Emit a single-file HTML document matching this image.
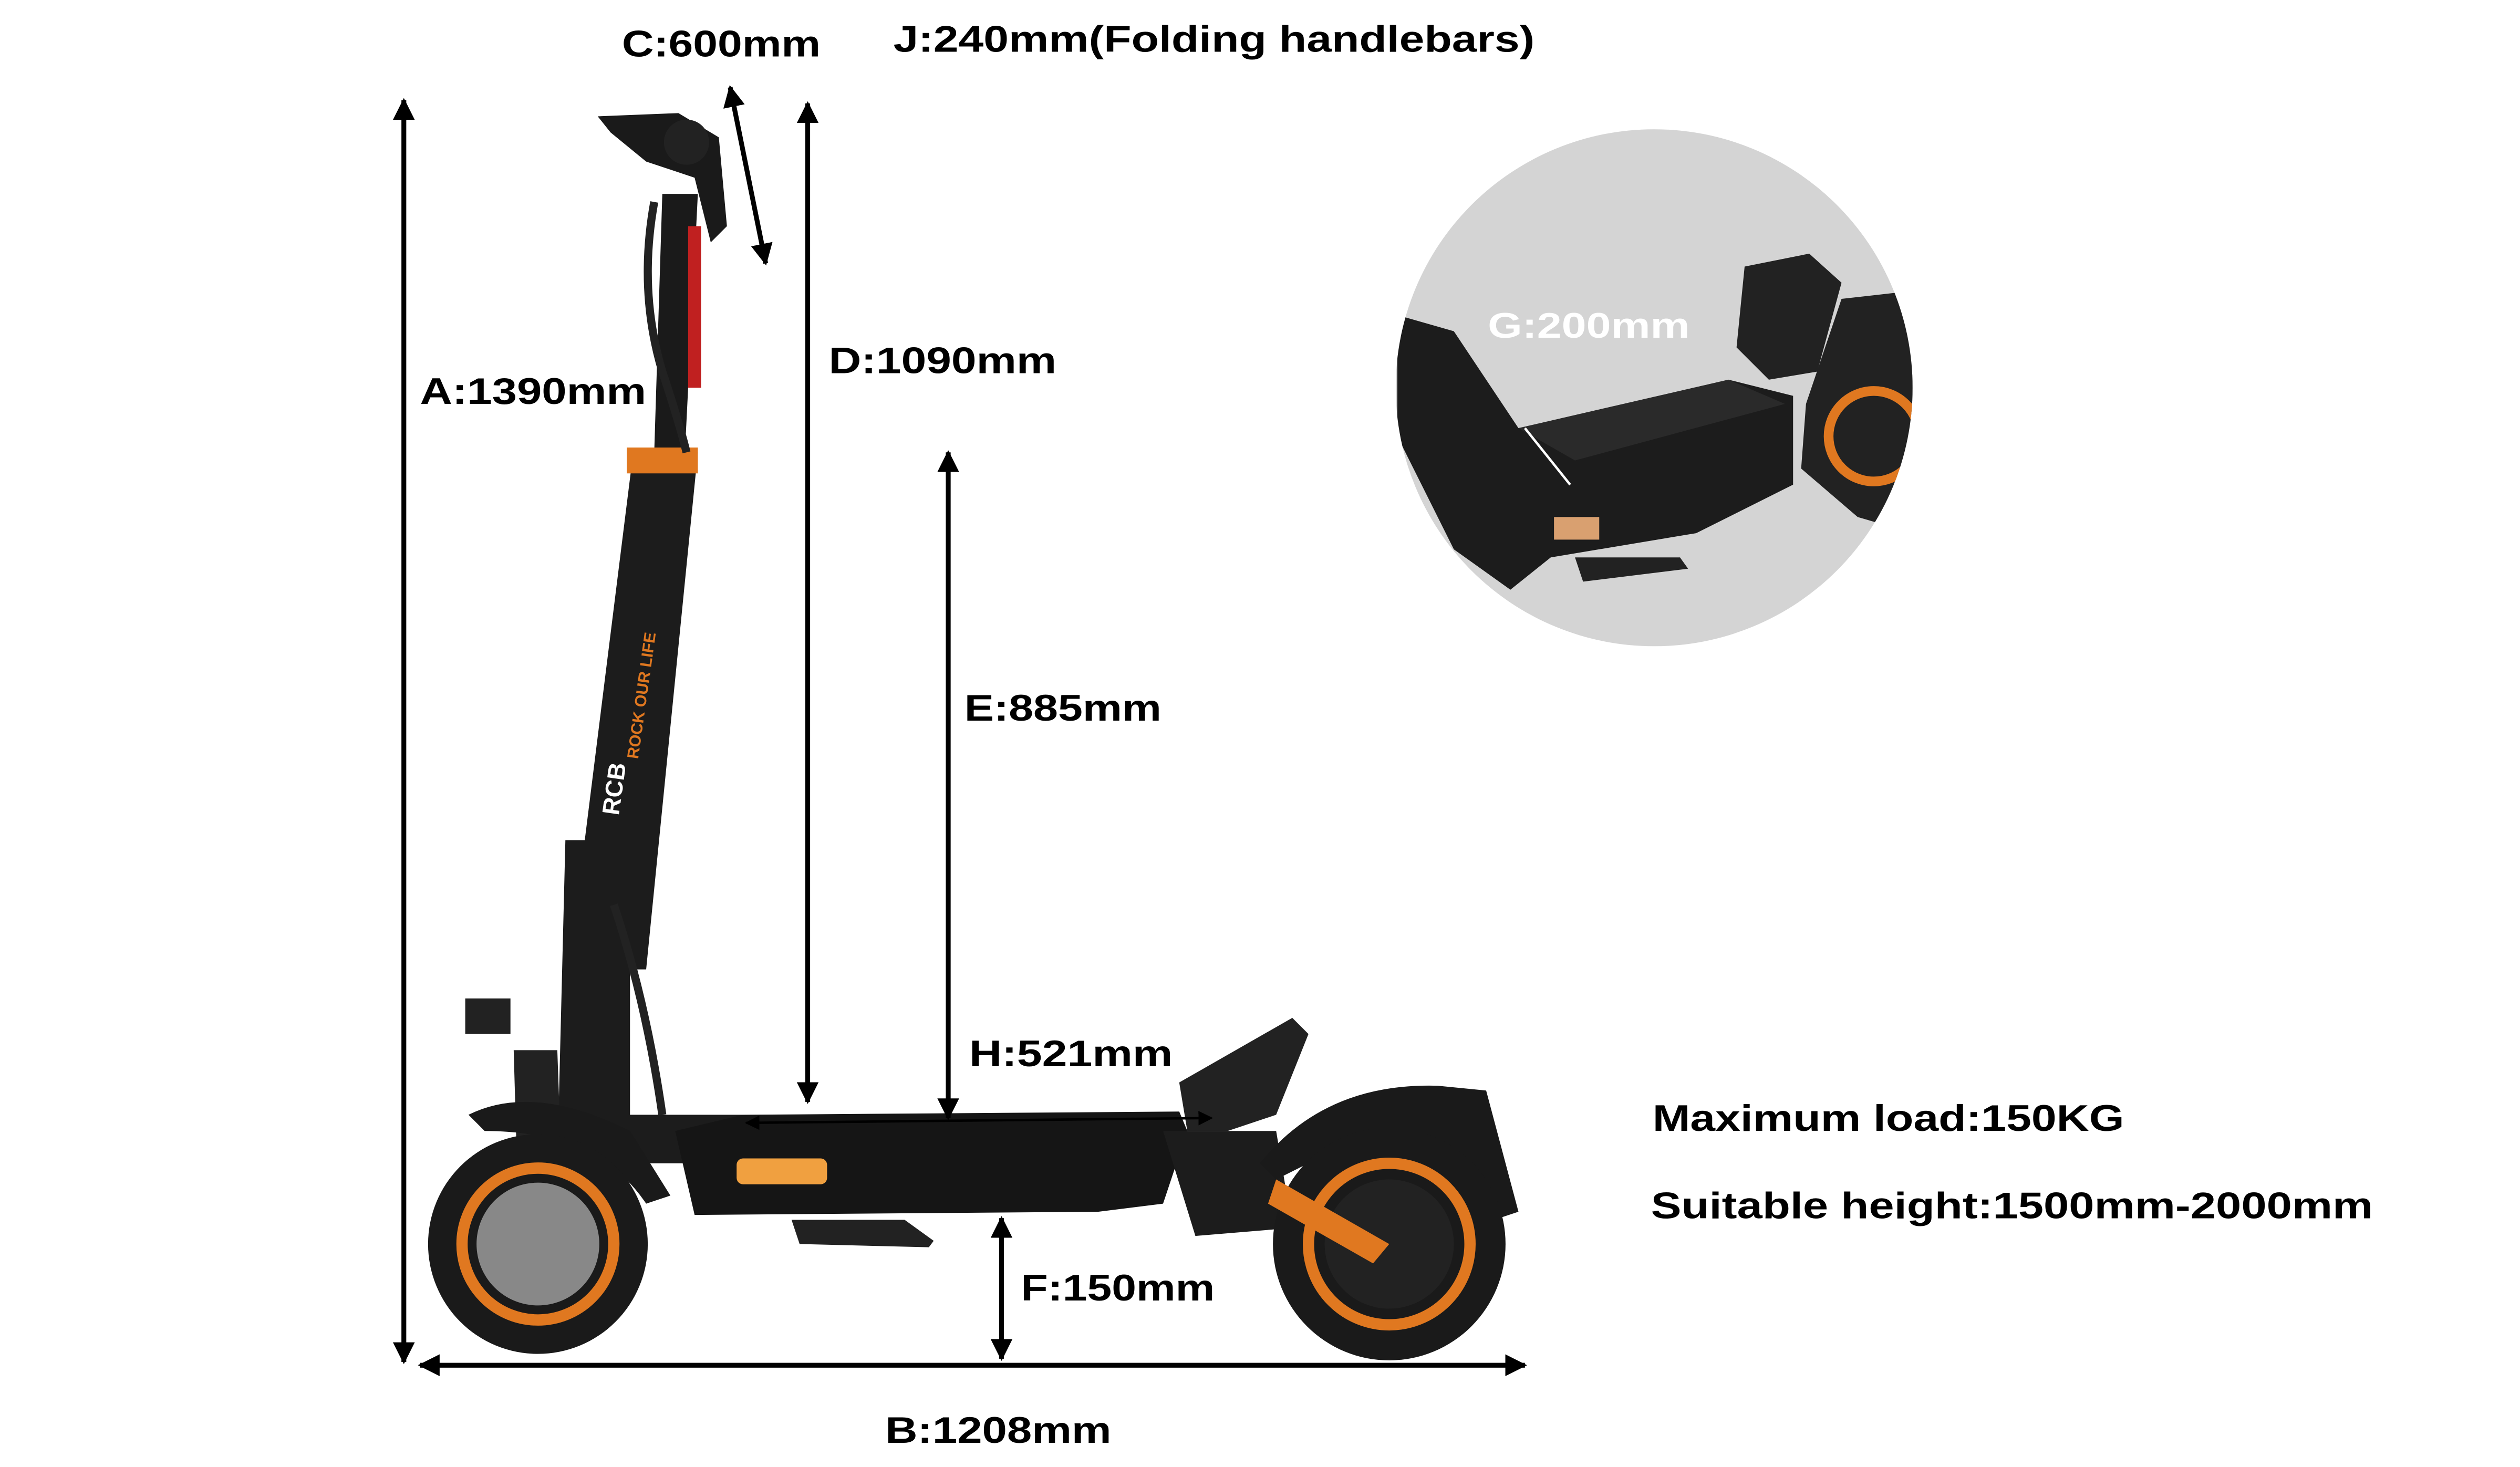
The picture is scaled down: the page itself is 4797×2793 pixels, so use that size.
<!DOCTYPE html>
<html><head><meta charset="utf-8"><style>
html,body{margin:0;padding:0;background:#fff;}
svg{display:block;}
text{font-family:"Liberation Sans",Arial,sans-serif;font-weight:bold;}
</style></head><body>
<svg width="4797" height="2793" viewBox="0 0 1560 908" preserveAspectRatio="none" xmlns="http://www.w3.org/2000/svg">
<defs>
<marker id="ah" viewBox="0 0 10 10" refX="9" refY="5" markerWidth="4.5" markerHeight="4.5" orient="auto-start-reverse"><path d="M0,0 L10,5 L0,10 z" fill="#000"/></marker>
<marker id="ahs" viewBox="0 0 10 10" refX="9" refY="5" markerWidth="6" markerHeight="6" orient="auto-start-reverse"><path d="M0,0 L10,5 L0,10 z" fill="#000"/></marker>
<clipPath id="cc"><circle cx="1024" cy="240" r="160"/></clipPath>
</defs>
<rect width="1560" height="908" fill="#fff"/>

<g clip-path="url(#cc)">
<rect x="864" y="80" width="320" height="320" fill="#d4d4d4"/>
<path d="M865,195 L900,205 L940,265 L1070,235 L1110,245 L1110,300 L1050,330 L960,345 L935,365 L900,340 L880,300 L865,270 Z" fill="#1c1c1c"/>
<path d="M940,265 L1070,235 L1105,250 L975,285 Z" fill="#2a2a2a"/>
<path d="M1080,165 L1120,157 L1140,175 L1125,230 L1095,235 L1075,215 Z" fill="#222"/>
<path d="M1140,185 L1184,180 L1184,330 L1150,320 L1115,290 L1118,250 Z" fill="#222"/>
<circle cx="1160" cy="270" r="28" fill="none" stroke="#e07820" stroke-width="6"/>
<rect x="962" y="320" width="28" height="14" fill="#d9a070"/>
<path d="M975,345 L1040,345 L1045,352 L980,360 Z" fill="#222"/>
</g>
<text x="921" y="209" font-size="22" fill="#fff" textLength="125" lengthAdjust="spacingAndGlyphs">G:200mm</text>
<line x1="944" y1="265" x2="972" y2="300" stroke="#fff" stroke-width="1.5"/>

<g>
<path d="M410,120 L432,120 L424,280 L405,280 Z" fill="#1a1a1a"/>
<path d="M392,280 L432,280 L400,600 L352,600 Z" fill="#1c1c1c"/>
<rect x="388" y="277" width="44" height="16" fill="#e07820"/>
<rect x="426" y="140" width="8" height="100" fill="#c02020"/>
<path d="M405,125 Q395,180 410,230 Q420,260 425,280" fill="none" stroke="#222" stroke-width="5"/>
<path d="M370,72 L420,70 L445,85 L450,140 L440,150 L430,110 L400,100 L378,82 Z" fill="#1a1a1a"/>
<circle cx="425" cy="88" r="14" fill="#222"/>
<text transform="translate(383,505) rotate(-82)" font-size="15" fill="#fff">RCB</text>
<text transform="translate(395,470) rotate(-82)" font-size="10" fill="#e07820">ROCK OUR LIFE</text>
<path d="M350,520 L390,520 L390,690 L460,690 L430,720 L345,720 Z" fill="#1c1c1c"/>
<path d="M380,560 Q400,620 410,690" fill="none" stroke="#222" stroke-width="5"/>
<rect x="288" y="618" width="28" height="22" fill="#222"/>
<path d="M318,650 L345,650 L350,790 L322,790 Z" fill="#222"/>
<path d="M290,690 Q330,670 390,700 L415,740 L400,745 Q370,700 300,700 Z" fill="#1a1a1a"/>
<path d="M460,690 L730,688 L735,700 L720,745 L680,750 L430,752 L418,700 Z" fill="#151515"/>
<rect x="456" y="717" width="56" height="16" rx="4" fill="#f0a040"/>
<path d="M490,755 L560,755 L578,768 L575,772 L495,770 Z" fill="#222"/>
<path d="M730,670 L800,630 L810,640 L790,690 L760,700 L735,700 Z" fill="#222"/>
<path d="M720,700 L790,700 L800,760 L740,765 Z" fill="#1c1c1c"/>
<path d="M780,720 Q820,670 890,672 L920,675 L940,750 L925,755 Q890,700 820,715 L790,730 Z" fill="#1a1a1a"/>
<circle cx="333" cy="770" r="68" fill="#1a1a1a"/>
<circle cx="333" cy="770" r="47" fill="none" stroke="#e07820" stroke-width="7"/>
<circle cx="333" cy="770" r="38" fill="#888"/>
<circle cx="860" cy="770" r="72" fill="#1a1a1a"/>
<circle cx="860" cy="770" r="50" fill="none" stroke="#e07820" stroke-width="7"/>
<circle cx="860" cy="770" r="40" fill="#222"/>
<path d="M790,730 L860,770 L850,782 L785,745 Z" fill="#e07820"/>
</g>

<g stroke="#000" stroke-width="3" fill="none">
<line x1="250" y1="62" x2="250" y2="843" marker-start="url(#ah)" marker-end="url(#ah)"/>
<line x1="500" y1="64" x2="500" y2="682" marker-start="url(#ah)" marker-end="url(#ah)"/>
<line x1="452" y1="54" x2="474" y2="163" marker-start="url(#ah)" marker-end="url(#ah)"/>
<line x1="587" y1="280" x2="587" y2="692" marker-start="url(#ah)" marker-end="url(#ah)"/>
<line x1="620" y1="754" x2="620" y2="841" marker-start="url(#ah)" marker-end="url(#ah)"/>
<line x1="260" y1="845" x2="944" y2="845" marker-start="url(#ah)" marker-end="url(#ah)"/>
<line x1="462" y1="695" x2="750" y2="692" stroke-width="1.5" marker-start="url(#ahs)" marker-end="url(#ahs)"/>
</g>

<g font-size="23" fill="#000" lengthAdjust="spacingAndGlyphs">
<text x="385" y="35" textLength="123" lengthAdjust="spacingAndGlyphs">C:600mm</text>
<text x="553" y="32" textLength="397" lengthAdjust="spacingAndGlyphs">J:240mm(Folding handlebars)</text>
<text x="260" y="250" textLength="140" lengthAdjust="spacingAndGlyphs">A:1390mm</text>
<text x="513" y="231" textLength="141" lengthAdjust="spacingAndGlyphs">D:1090mm</text>
<text x="597" y="446" textLength="122" lengthAdjust="spacingAndGlyphs">E:885mm</text>
<text x="600" y="660" textLength="126" lengthAdjust="spacingAndGlyphs">H:521mm</text>
<text x="632" y="805" textLength="120" lengthAdjust="spacingAndGlyphs">F:150mm</text>
<text x="548" y="893" textLength="140" lengthAdjust="spacingAndGlyphs">B:1208mm</text>
<text x="1023" y="700" textLength="292" lengthAdjust="spacingAndGlyphs">Maximum load:150KG</text>
<text x="1022" y="754" textLength="447" lengthAdjust="spacingAndGlyphs">Suitable height:1500mm-2000mm</text>
</g>
</svg>
</body></html>
